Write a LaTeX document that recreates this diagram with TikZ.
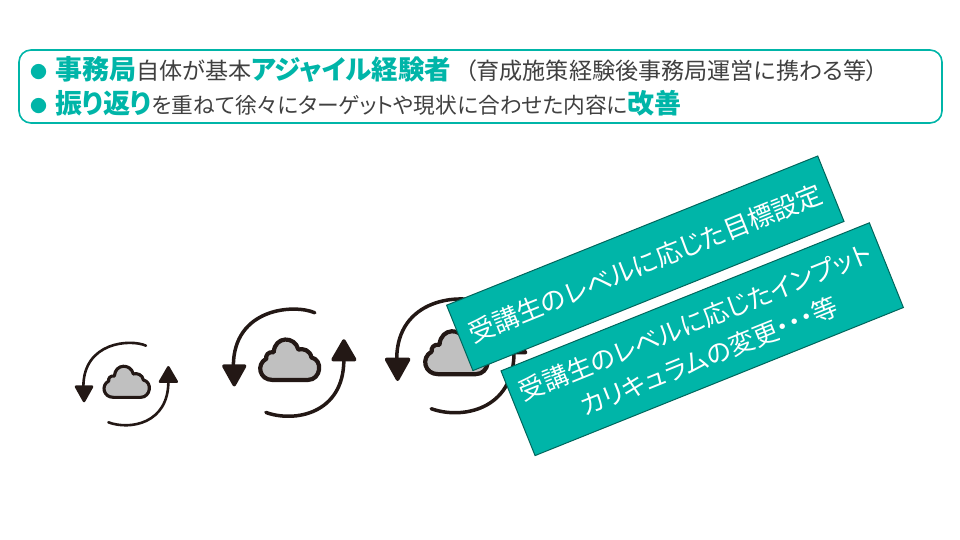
\documentclass[tikz,border=0pt]{standalone}
\usepackage{fontspec}
\setmainfont{Noto Sans CJK JP}[RawFeature={+palt}]
\usepackage{xcolor}
\definecolor{accentteal}{RGB}{0,181,168}
\definecolor{edgeteal}{RGB}{0,102,92}
\definecolor{textgray}{RGB}{64,64,64}
\definecolor{iconblack}{RGB}{35,24,21}
\definecolor{cloudgray}{RGB}{192,192,192}
\newcommand{\keyword}[2][27]{{\fontsize{#1}{32}\selectfont\bfseries\color{accentteal}#2}}
\newcommand{\listdot}{{\fontsize{17}{20}\selectfont\color{accentteal}\raisebox{1.5pt}{●}}\hspace{8pt}}
\begin{document}
\begin{tikzpicture}[x=1pt, y=-1pt,
    panel/.style={draw=accentteal, line width=1.6pt, rounded corners=12pt, minimum width=923pt, minimum height=73pt},
    bulletline/.style={anchor=base west, inner sep=0pt, text=textgray},
    ribbon/.style={draw=edgeteal, fill=accentteal, line width=1pt, rotate=21.9, align=center, text=white, inner sep=0pt},
    pics/cyclecloud/.style={code={
        \draw[iconblack, line width=#1, line cap=round] (58,-109) .. controls (10,-130) and (-130,-120) .. (-130,14);
        \draw[iconblack, line width=#1, line cap=round] (-55,121) .. controls (10,145) and (125,125) .. (125,-1);
        \draw[iconblack, fill=iconblack, line width=#1, line join=round] (-152,14) -- (-104,14) -- (-128,57) -- cycle;
        \draw[iconblack, fill=iconblack, line width=#1, line join=round] (100,-1) -- (150,-1) -- (125,-44) -- cycle;
        \draw[iconblack, fill=cloudgray, line width=1.2*#1, line join=round] (-40,46) -- (42,46) .. controls (72,46) and (78,0) .. (50,-6) .. controls (48,-22) and (30,-28) .. (20,-24) .. controls (12,-56) and (-34,-56) .. (-37,-18) .. controls (-50,-20) and (-56,-10) .. (-54,-3) .. controls (-78,10) and (-70,46) .. (-40,46) -- cycle;
    }}]
    \useasboundingbox (0,0) rectangle (960,540);

    \node[panel] (summary) at (480.5,86.5) {};
    \node[bulletline, font=\fontsize{23.1}{28}\selectfont] (line1) at (30,80) {\listdot\keyword{事務局}自体が基本\keyword[26.5]{アジャイル経験者}\hspace{14pt}（育成施策経験後事務局運営に携わる等）};
    \node[bulletline, font=\fontsize{21.7}{28}\selectfont] (line2) at (30,114) {\listdot\keyword{振り返り}を重ねて徐々にターゲットや現状に合わせた内容に\keyword{改善}};

    % icons grow left to right
    \pic[scale=0.3333] (small) at (126.7,382) {cyclecloud=2.6pt};
    \pic[scale=0.4333] (medium) at (289.7,360) {cyclecloud=3.5pt};
    \pic[scale=0.46] (large) at (456.5,353) {cyclecloud=3.5pt};

    \node[ribbon, minimum width=400pt, minimum height=70.5pt, font=\fontsize{26}{37}\selectfont] (goal) at (645.3,263.3) {受講生のレベルに応じた目標設定};
    \node[ribbon, minimum width=397pt, minimum height=91.3pt, font=\fontsize{25.5}{37}\selectfont] (input) at (702.2,339.2) {受講生のレベルに応じたインプット\\カリキュラムの変更・・・等};
\end{tikzpicture}
\end{document}
